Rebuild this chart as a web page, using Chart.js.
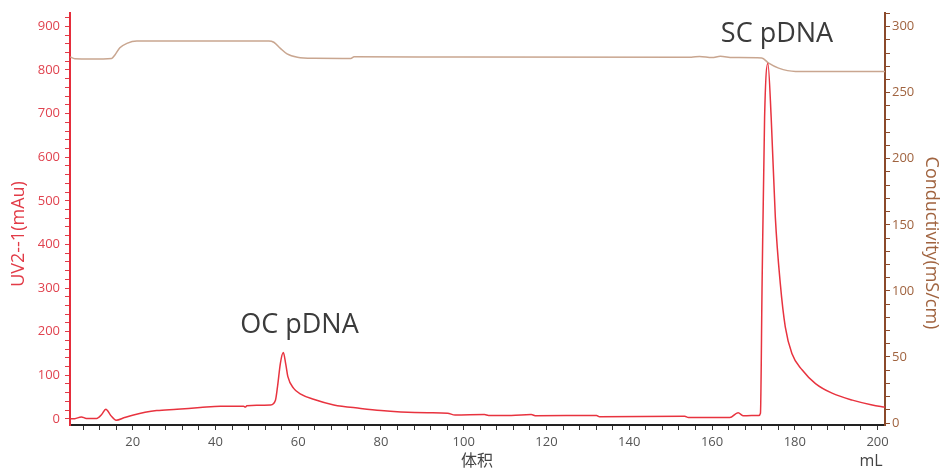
<!DOCTYPE html>
<html>
<head>
<meta charset="utf-8">
<script src="https://cdn.jsdelivr.net/npm/chart.js@4.4.1/dist/chart.umd.min.js"></script>
<style>
  html, body { margin: 0; padding: 0; background: #fff; }
</style>
</head>
<body>
<canvas id="chart" width="940" height="470"></canvas>
<script>
// volume (mL) and UV absorbance (mAu)
const uvVolume = [4.9, 6, 7.6, 8.8, 11.3, 12.5, 13.5, 14.7, 16, 18, 20.2, 23, 25.8, 30.7, 36.3, 41.2, 46.8, 47.2, 47.6, 50, 53.3,
  54.5, 55, 55.7, 56.4, 57.0, 57.5, 58.9, 60.6, 63.7, 68.6, 75.1, 80, 84.8, 91.3, 96.1, 97.9, 105, 106, 111.5, 116.3, 117.5,
  132.1, 132.8, 153.4, 154.3, 164.3, 166.3, 167.6, 171.3, 171.7, 172.1, 172.7, 173.5, 174.3, 175.3, 176.5, 177.7, 179.3,
  181.8, 185, 189, 193.9, 198.7, 201.8]
const uvValues = [0, 0.5, 4.5, 1, 1, 10, 22, 8, -3, 3, 9, 15, 19, 22, 26, 29, 29, 27, 30, 31, 32,
  43, 74, 128, 152, 125, 97, 70, 57, 45, 32, 24, 19, 16, 14, 13, 9, 10, 8, 8, 10, 7,
  8, 5, 6, 3, 3, 14, 7, 8, 13, 310, 690, 815, 690, 462, 310, 211, 150,
  112, 81, 59, 43, 32, 27]

// conductivity (mS/cm)
const condVolume = [4.9, 6, 10, 14.9, 15.7, 16.9, 18.6, 21, 52.9, 54.1, 55.7, 57.3, 59.8, 63.8, 72.7, 73.5, 100, 155, 157,
  160, 162, 165, 172, 173.7, 176.1, 180.2, 201.8]
const condValues = [277, 275.8, 275.6, 276, 278.6, 284, 287.4, 289.2, 289.2, 288.2, 283.6, 279.4, 276.9, 276.1, 276, 277.2,
  277, 276.8, 277.5, 276.6, 277.6, 276.6, 276.3, 272.4, 268.6, 266.1, 266]

const xLabels = [20, 40, 60, 80, 100, 120, 140, 160, 180, 200]
const uvLabels = [0, 100, 200, 300, 400, 500, 600, 700, 800, 900]
const condLabels = [0, 50, 100, 150, 200, 250, 300]

const peakNames = ['OC pDNA', 'SC pDNA']
const peakVolume = [60.3, 175.7]
const peakHeight = [215, 881]

// minor tick spacing for each axis
const xMinor = 4, uvMinor = 20, condMinor = 10

function minorTicks(from, to, step) {
  let out = []
  for (let v = from; v <= to + 1e-9; v += step) out.push({ value: Math.round(v * 100) / 100 })
  return out
}

let uvData = uvVolume.map((v, i) => ({ x: v, y: uvValues[i] }))
let condData = condVolume.map((v, i) => ({ x: v, y: condValues[i] }))

const textPlugin = {
  id: 'texts',
  afterDraw(chart) {
    const ctx = chart.ctx
    const s = chart.scales
    ctx.save()
    ctx.textAlign = 'center'
    ctx.textBaseline = 'middle'

    // peak notes
    ctx.fillStyle = '#3b3b3b'
    ctx.font = '27px "Open Sans"'
    peakNames.forEach(function (name, i) {
      ctx.fillText(name, s.x.getPixelForValue(peakVolume[i]), s.yL.getPixelForValue(peakHeight[i]))
    })

    // axis titles
    ctx.font = '18px "Open Sans"'
    ctx.fillStyle = '#e23b47'
    ctx.save()
    ctx.translate(19, 234)
    ctx.rotate(-Math.PI / 2)
    ctx.fillText('UV2--1(mAu)', 0, 0)
    ctx.restore()

    ctx.fillStyle = '#a0633f'
    ctx.save()
    ctx.translate(931, 243)
    ctx.rotate(Math.PI / 2)
    ctx.fillText('Conductivity(mS/cm)', 0, 0)
    ctx.restore()

    ctx.fillStyle = '#444'
    ctx.font = '16px "Noto Sans CJK SC"'
    ctx.fillText('体积', 477, 460)
    ctx.font = '16px "Open Sans"'
    ctx.fillText('mL', 871, 461)
    ctx.restore()
  }
}

new Chart(document.getElementById('chart'), {
  type: 'line',
  data: {
    datasets: [
      {
        label: 'UV',
        data: uvData,
        yAxisID: 'yL',
        borderColor: '#e8333f',
        borderWidth: 1.5,
        pointRadius: 0,
        cubicInterpolationMode: 'monotone',
        fill: false
      },
      {
        label: 'Conductivity',
        data: condData,
        yAxisID: 'yR',
        borderColor: '#c9a690',
        borderWidth: 1.5,
        pointRadius: 0,
        cubicInterpolationMode: 'monotone',
        fill: false
      }
    ]
  },
  options: {
    responsive: false,
    animation: false,
    layout: { padding: { top: 11, bottom: 0, left: 0, right: 0 } },
    plugins: { legend: { display: false }, tooltip: { enabled: false } },
    scales: {
      x: {
        type: 'linear',
        position: 'bottom',
        min: 4.85,
        max: 201.8,
        afterBuildTicks: function (scale) { scale.ticks = minorTicks(8, 200, xMinor) },
        afterFit: function (scale) { scale.height = 45 },
        ticks: {
          autoSkip: false,
          maxRotation: 0,
          padding: 4,
          color: '#555',
          font: { size: 13, family: 'Open Sans' },
          callback: function (v) { return xLabels.includes(v) ? String(v) : '' }
        },
        grid: { drawOnChartArea: false, tickLength: 5, tickColor: '#333', tickWidth: 1 },
        border: { color: '#222', width: 2 }
      },
      yL: {
        type: 'linear',
        position: 'left',
        min: -14,
        max: 931,
        afterBuildTicks: function (scale) { scale.ticks = minorTicks(0, 920, uvMinor) },
        afterFit: function (scale) { scale.width = 70 },
        ticks: {
          autoSkip: false,
          padding: 5,
          color: '#e0434f',
          font: { size: 13, family: 'Open Sans' },
          callback: function (v) { return uvLabels.includes(v) ? String(v) : '' }
        },
        grid: { drawOnChartArea: false, tickLength: 5, tickColor: '#e23b47', tickWidth: 1 },
        border: { color: '#e52d3b', width: 2 }
      },
      yR: {
        type: 'linear',
        position: 'right',
        min: -1.5,
        max: 310.5,
        afterBuildTicks: function (scale) { scale.ticks = minorTicks(0, 310, condMinor) },
        afterFit: function (scale) { scale.width = 55 },
        ticks: {
          autoSkip: false,
          padding: 2,
          color: '#a0633f',
          font: { size: 13, family: 'Open Sans' },
          callback: function (v) { return condLabels.includes(v) ? String(v) : '' }
        },
        grid: { drawOnChartArea: false, tickLength: 5, tickColor: '#8b4a2b', tickWidth: 1 },
        border: { color: '#8b4a2b', width: 2 }
      }
    }
  },
  plugins: [textPlugin]
})
</script>
</body>
</html>
